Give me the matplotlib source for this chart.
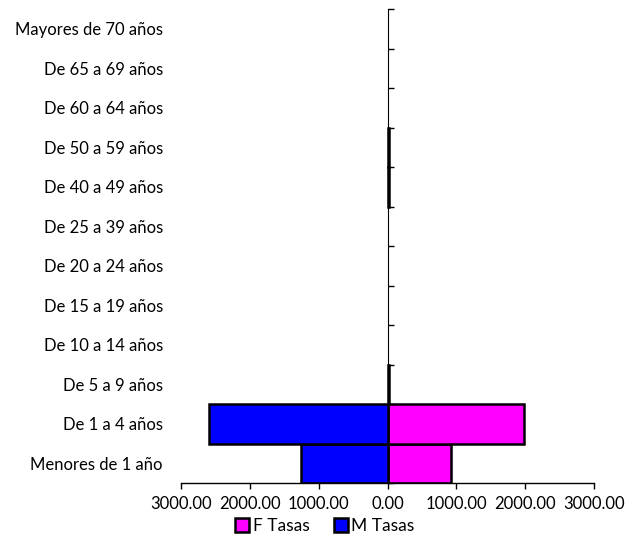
import matplotlib
matplotlib.use("Agg")
from matplotlib import pyplot as plt
from matplotlib.ticker import FuncFormatter
from matplotlib.patches import Patch
import numpy as np

plt.rcParams['font.family'] = ['Lato', 'DejaVu Sans']

# age groups, bottom to top
grupos = ["Menores de 1 año", "De 1 a 4 años", "De 5 a 9 años", "De 10 a 14 años",
          "De 15 a 19 años", "De 20 a 24 años", "De 25 a 39 años", "De 40 a 49 años",
          "De 50 a 59 años", "De 60 a 64 años", "De 65 a 69 años", "Mayores de 70 años"]

# rates per group
m_tasas = [1256, 2586, 0, 0, 0, 0, 0, 0, 0, 0, 0, 0]
f_tasas = [927, 1980, 20, 0, 0, 0, 0, 20, 20, 0, 0, 0]

fig = plt.figure(figsize=(6.27, 5.36), dpi=100)
ax = fig.add_axes([181/627, 1 - 483/536, (594-181)/627, (483-9)/536])

y = np.arange(len(grupos))
m = -np.array(m_tasas, dtype=float)
f = np.array(f_tasas, dtype=float)

bars_f = ax.barh(y, f, height=1.0, color='#FF00FF', edgecolor='black', linewidth=1.8)
bars_m = ax.barh(y, m, height=1.0, color='#0000FF', edgecolor='black', linewidth=1.8)
for bars, vals in ((bars_f, f), (bars_m, m)):
    for b, v in zip(bars, vals):
        if v == 0:
            b.set_linewidth(0)

ax.set_xlim(-3000, 3000)
ax.set_ylim(-0.5, len(grupos) - 0.5)
ax.set_xticks(np.arange(-3000, 3001, 1000))
ax.xaxis.set_major_formatter(FuncFormatter(lambda v, p: "%.2f" % abs(v)))
ax.tick_params(axis='x', direction='out', length=4.5, width=1, labelsize=12, pad=5)

ax.set_yticks(y)
ax.set_yticklabels(grupos)
ax.tick_params(axis='y', length=0, labelsize=12, pad=13)

for s in ['top', 'right', 'left']:
    ax.spines[s].set_visible(False)
ax.spines['bottom'].set_linewidth(1)

# central axis at zero with category tick marks
sec = ax.secondary_yaxis(0.5)
sec.set_yticks(np.arange(-0.5, len(grupos), 1.0))
sec.set_yticklabels([])
sec.tick_params(axis='y', direction='out', length=4, width=1)
sec.spines['left'].set_linewidth(1)

handles = [Patch(facecolor='#FF00FF', edgecolor='black', linewidth=1.8, label='F Tasas'),
           Patch(facecolor='#0000FF', edgecolor='black', linewidth=1.8, label='M Tasas')]
fig.legend(handles=handles, loc='center', bbox_to_anchor=(325/627, 1 - 526/536), ncol=2,
           frameon=False, fontsize=12.5, handlelength=0.8, handleheight=0.8,
           handletextpad=0.2, columnspacing=1.4, borderpad=0)

fig.savefig("out.png", dpi=100)
